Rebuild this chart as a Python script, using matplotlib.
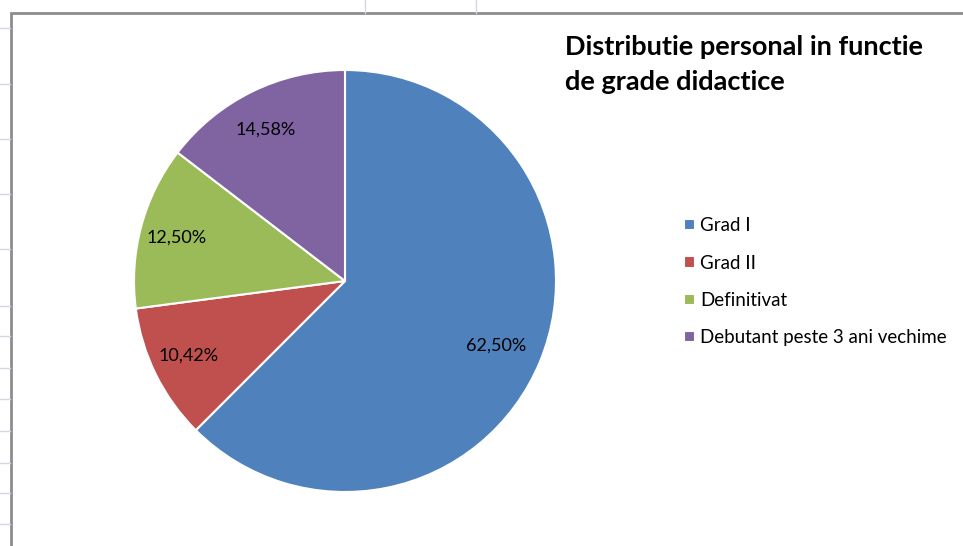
import matplotlib.pyplot as plt
from matplotlib.patches import Rectangle

# personal count per category (48 total)
categories = ['Grad I', 'Grad II', 'Definitivat', 'Debutant peste 3 ani vechime']
counts = [30, 5, 6, 7]
colors = ['#4F81BD', '#C0504D', '#9BBB59', '#8064A2']
title = 'Distributie personal in functie\nde grade didactice'

# spreadsheet gridlines behind the chart (pixel positions)
sheet_cols = [365, 476]
sheet_rows = [28, 84, 139, 194, 249, 306, 336, 368, 399, 431, 463, 493, 524]

W, H = 963, 546
plt.rcParams['font.family'] = ['Lato', 'DejaVu Sans']

fig = plt.figure(figsize=(W / 100, H / 100), dpi=100)
ax = fig.add_axes([0, 0, 1, 1])
ax.set_xlim(0, W)
ax.set_ylim(0, H)
ax.set_aspect('equal')
ax.axis('off')

# excel sheet around the chart
for x in sheet_cols:
    ax.plot([x, x], [H, H - 13], color='#D0D7E5', lw=1)
for y in sheet_rows:
    ax.plot([0, 10], [H - y, H - y], color='#D0D7E5', lw=1)
ax.add_patch(Rectangle((11, -5), W, H - 13 + 5, facecolor='white',
                       edgecolor='#8C8C8C', lw=2, zorder=1))

wedges, texts, autotexts = ax.pie(
    counts, colors=colors, startangle=90, counterclock=False,
    center=(345, H - 281), radius=211, frame=True,
    autopct=lambda p: f'{p:.2f}%'.replace('.', ','), pctdistance=0.8,
    wedgeprops=dict(edgecolor='white', linewidth=1.5),
    textprops=dict(fontsize=13, color='black'))
for w in wedges:
    w.set_zorder(2)
for t in autotexts:
    t.set_zorder(3)
    # excel places the labels a little further left
    x, y = t.get_position()
    t.set_position((x - 5, y))
ax.set_xlim(0, W)
ax.set_ylim(0, H)
ax.axis('off')

fig.text(565 / W, 1 - 35 / H, title, fontsize=19.5, fontweight='bold',
         ha='left', va='top', linespacing=1.55)

leg = ax.legend(wedges, categories, loc='upper left',
                bbox_to_anchor=(675 / W, 1 - 208 / H), frameon=False,
                fontsize=13.5, handlelength=0.55, handleheight=0.55,
                handletextpad=0.3, labelspacing=1.08, borderpad=0)

fig.savefig('out.png', dpi=100, facecolor='white')
